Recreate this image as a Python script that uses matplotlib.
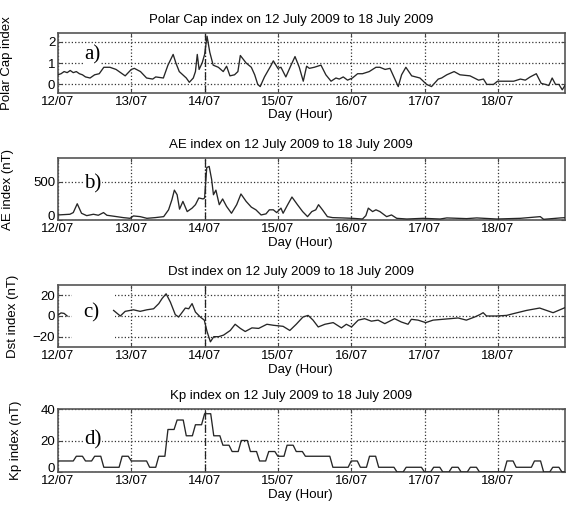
import numpy as np
import matplotlib
matplotlib.use("Agg")
import matplotlib.pyplot as plt
import matplotlib.transforms as mtransforms

plt.rcParams['font.family'] = ['Liberation Sans', 'DejaVu Sans']

# time axis in hours from 12/07 00:00
day_ticks = [0, 24, 48, 72, 96, 120, 144]
day_labels = ['12/07', '13/07', '14/07', '15/07', '16/07', '17/07', '18/07']

# Polar Cap index
pc_t = [0, 1, 2, 3, 4, 5, 6, 7, 8, 9, 10.5, 12, 13.5, 15, 17, 19, 21, 22, 24, 25, 27,
        29, 31, 32, 34.5, 36, 37.7, 38.6, 39.7, 42, 43, 44.3, 45, 45.6, 46.2, 47.2, 48,
        48.8, 49.7, 50.8, 52.5, 54.1, 55.2, 56.3, 57.8, 58.9, 59.7, 61.6, 63.3, 64.4,
        65.4, 66.2, 67.6, 69.8, 70.5, 72, 73, 74.6, 76.3, 77.6, 79, 80.3, 81.4, 82.3,
        83.9, 86.1, 87.7, 89.4, 91, 92.1, 93.4, 94.8, 96.4, 98.1, 99.7, 101.9, 104.1,
        105.4, 107.1, 108.7, 111.4, 112.5, 113.9, 115.8, 118.5, 120.7, 122.3, 124.5,
        125.6, 127.3, 129.7, 131.6, 134.9, 137.7, 139.3, 140.4, 142.6, 143.9, 149.2,
        151.4, 153, 154.6, 156.6, 158.2, 159.6, 160.7, 161.8, 162.9, 164, 165.1, 166.2]
pc_v = [0.45, 0.5, 0.6, 0.55, 0.65, 0.55, 0.6, 0.5, 0.45, 0.35, 0.3, 0.45, 0.5, 0.8,
        0.8, 0.7, 0.5, 0.4, 0.7, 0.75, 0.6, 0.3, 0.25, 0.35, 0.3, 0.9, 1.4, 1.0, 0.6,
        0.3, 0.1, 0.3, 0.6, 1.4, 0.7, 1.0, 1.4, 2.25, 1.5, 0.9, 0.8, 0.6, 0.85, 0.4,
        0.45, 0.6, 1.35, 1.0, 0.8, 0.45, 0.0, -0.1, 0.35, 0.9, 1.1, 0.75, 0.8, 0.35,
        0.9, 1.3, 0.8, 0.15, 0.85, 0.75, 0.8, 0.9, 0.45, 0.15, 0.3, 0.25, 0.35, 0.2,
        0.3, 0.5, 0.5, 0.6, 0.8, 0.8, 0.7, 0.75, -0.1, 0.45, 0.8, 0.4, 0.3, 0.0, -0.1,
        0.25, 0.3, 0.45, 0.6, 0.45, 0.4, 0.2, 0.25, 0.0, 0.0, 0.15, 0.15, 0.25, 0.2,
        0.35, 0.5, 0.05, 0.0, -0.05, 0.3, 0.0, 0.0, -0.25, 0.0]

# AE index (nT)
ae_t = [0, 3.9, 5, 6.3, 7.7, 9.4, 11.6, 13.2, 14.9, 16, 19.2, 21.4, 23.6, 24.7, 26.9,
        29.1, 31.8, 34.6, 36.2, 37.3, 38.1, 39, 39.8, 40.9, 42.3, 43.9, 45, 46.1, 47.5,
        48, 48.7, 49.5, 50.3, 50.9, 51.7, 52.8, 53.9, 55.2, 56.8, 58.5, 59.9, 61.6,
        63.3, 64.8, 66.5, 68.1, 69.2, 70.5, 71.6, 73, 73.7, 75.2, 76.6, 78.4, 80.1,
        81.7, 83.1, 84.4, 85.3, 86.6, 88.2, 89.9, 93.1, 96.4, 99.7, 100.8, 101.6, 103,
        104.1, 105.4, 107.6, 109.2, 110.9, 114.2, 119.6, 125.1, 127.3, 133.8, 137.1,
        143.7, 151.4, 157.9, 159, 164.5, 166.4]
ae_v = [66, 75, 97, 212, 88, 57, 75, 62, 97, 62, 44, 31, 22, 53, 44, 22, 31, 44, 133,
        265, 390, 330, 142, 243, 110, 155, 200, 288, 275, 288, 685, 700, 530, 330, 390,
        200, 275, 177, 88, 200, 340, 243, 168, 133, 66, 80, 133, 133, 97, 155, 88, 200,
        300, 200, 110, 44, 110, 133, 200, 133, 44, 31, 27, 22, 13, 57, 155, 110, 133,
        110, 44, 66, 22, 13, 22, 13, 27, 18, 27, 13, 22, 44, 9, 27, 31]

# Dst index (nT), no data between 03 and 18 UT on 12/07
dst_t = [0, 1, 2, 3, 3.5, 18.2, 20.4, 22, 24.7, 26.9, 29.1, 31.3, 33, 34.1, 35.4,
         36.8, 38.4, 39.5, 41.7, 42.8, 43.9, 45, 46.6, 47.9, 48.8, 49.9, 51, 52.6,
         54.2, 56.4, 58, 59.7, 61.3, 63.5, 65.7, 68.4, 70.6, 73.7, 75.9, 78, 80.2,
         81.9, 83.5, 85.2, 87.4, 90.1, 92.8, 94.4, 96.1, 98.3, 100.4, 102.6, 104.8,
         107, 110.2, 112.4, 114.6, 115.7, 117.9, 120.4, 122.8, 128.3, 131, 133.7,
         136.4, 138.1, 139.2, 140.3, 143.6, 146.9, 149, 153.4, 157.7, 162.1, 166.4]
dst_v = [1, 3, 2.5, 0, np.nan, 5.4, 0, 4.5, 6, 4.5, 6, 7, 12, 17, 21.5, 13.4, 1.3, -1,
         7.7, 7, 12, 3.8, -1, -4, -15, -25, -20, -20, -18.5, -14, -8, -12, -15, -11.5,
         -12, -8, -9, -10, -14, -8, -1, 0.6, -4, -10.6, -8, -6.4, -11.5, -8, -10.6, -4,
         -2.6, -5, -4, -7.4, -2.6, -5.8, -8, -3.2, -4, -6.4, -4, -2.6, -1.9, -4, -1,
         1.3, 3.2, 0, 0, 0.6, 2.2, 5.4, 7.7, 3.2, 8.6]

# Kp index, 3-hourly values (x10)
kp_3h = [7, 7, 10, 7, 10, 3, 3, 10,
         7, 7, 3, 10, 27, 33, 23, 30,
         37, 23, 17, 13, 20, 13, 7, 13,
         10, 17, 13, 10, 10, 10, 3, 3,
         7, 3, 10, 3, 3, 0, 3, 3,
         0, 3, 0, 3, 0, 3, 0, 0,
         0, 7, 3, 3, 7, 0, 3, 0]
kp_v = np.repeat(kp_3h, 3)
kp_t = np.arange(len(kp_v))

W, H = 566, 509
fig = plt.figure(figsize=(W / 100, H / 100), dpi=100)


def px_axes(top, bottom, left=58, right=565):
    return fig.add_axes([left / W, 1 - bottom / H, (right - left) / W, (bottom - top) / H])


panels = [
    dict(box=(33, 93), t=pc_t, v=pc_v, ylim=(-0.4, 2.4), yt=[0, 1, 2],
         title='Polar Cap index on 12 July 2009 to 18 July 2009',
         ylab='Polar Cap index', tag='a)', tagxy=(92, 55), ylx=13),
    dict(box=(158, 220), t=ae_t, v=ae_v, ylim=(0, 810), yt=[0, 500],
         title='AE index on 12 July 2009 to 18 July 2009',
         ylab='AE index (nT)', tag='b)', tagxy=(93, 184), ylx=14),
    dict(box=(285, 347), t=dst_t, v=dst_v, ylim=(-30, 30), yt=[-20, 0, 20],
         title='Dst index on 12 July 2009 to 18 July 2009',
         ylab='Dst index (nT)', tag='c)', tagxy=(91, 313), ylx=19),
    dict(box=(409, 472), t=kp_t, v=kp_v, ylim=(0, 40), yt=[0, 20, 40],
         title='Kp index on 12 July 2009 to 18 July 2009',
         ylab='Kp index (nT)', tag='d)', tagxy=(93, 440), ylx=22),
]

for p in panels:
    top, bot = p['box']
    ax = px_axes(top, bot)
    ax.plot(p['t'], p['v'], color='#262626', lw=0.95, zorder=3)
    ax.set_xlim(0, 166)
    ax.set_ylim(*p['ylim'])
    ax.set_xticks(day_ticks)
    ax.set_xticklabels(day_labels)
    ax.set_yticks(p['yt'])
    ax.grid(True, linestyle=':', color='#333333', lw=0.9)
    ax.axvline(48, color='#222222', lw=0.9, ls='-.', zorder=1.6)
    ax.tick_params(direction='in', length=3, top=True, right=True, labelsize=9.5,
                   pad=2, color='#444444')
    for s in ax.spines.values():
        s.set_color('#555555')
        s.set_linewidth(1.2)
    ax.set_title(p['title'], fontsize=9.5, x=0.46, pad=7)
    ax.set_xlabel('Day (Hour)', fontsize=9.5, labelpad=0)
    ax.xaxis.set_label_coords(0.477, -0.27)
    ax.set_ylabel(p['ylab'], fontsize=9.5)
    ax.yaxis.set_label_coords((p['ylx'] - 58) / 507, 0.5)
    # lift the "0" label sitting on the bottom spine off the date labels
    if p['yt'][0] == p['ylim'][0]:
        lab = ax.get_yticklabels()[0]
        lab.set_transform(lab.get_transform() +
                          mtransforms.ScaledTranslation(0, 3 / 72, fig.dpi_scale_trans))
    if p['tag'] == 'c)':
        # blank stretch where Dst has no data
        ax.axvspan(4.6, 18.5, color='white', zorder=1.8, lw=0)
    tx, ty = p['tagxy']
    fig.text(tx / W, 1 - ty / H, p['tag'], family='Liberation Serif', fontsize=15,
             ha='center', va='center',
             bbox=dict(facecolor='white', edgecolor='none', pad=0.5))

fig.savefig('out.png', dpi=100)
